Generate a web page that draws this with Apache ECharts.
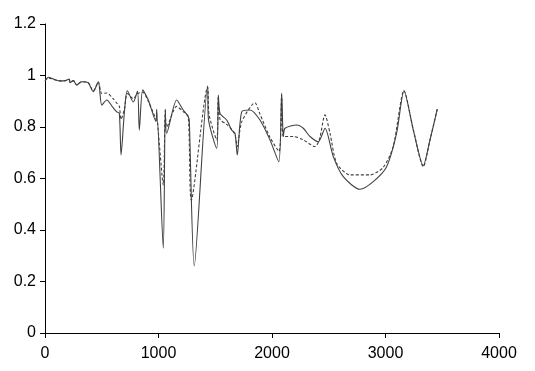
<!DOCTYPE html>
<html>
<head>
<meta charset="utf-8">
<script src="https://cdn.jsdelivr.net/npm/echarts@6/dist/echarts.min.js"></script>
<style>html,body{margin:0;padding:0;background:#fff;}#c{width:535px;height:371px;}</style>
</head>
<body>
<div id="c"></div>
<script>
var xTicks = [0, 1000, 2000, 3000, 4000];
var yTicks = [0, 0.2, 0.4, 0.6, 0.8, 1, 1.2];

var solidX = [0, 29, 80, 132, 180, 214, 220, 250, 279, 323, 381, 425, 470, 500, 544, 600, 632, 655, 670, 700, 725, 778, 815, 831, 861, 910, 978, 984, 1042, 1060, 1072, 1160, 1218, 1242, 1262, 1271, 1315, 1433, 1439, 1513, 1527, 1542, 1601, 1645, 1674, 1694, 1733, 1806, 1894, 1982, 2060, 2085, 2100, 2115, 2218, 2276, 2335, 2408, 2467, 2540, 2628, 2775, 2892, 3010, 3098, 3163, 3245, 3333, 3392, 3456];
var solidY = [0.98, 0.993, 0.985, 0.979, 0.98, 0.986, 0.972, 0.98, 0.963, 0.976, 0.972, 0.937, 0.976, 0.885, 0.905, 0.875, 0.859, 0.853, 0.691, 0.86, 0.941, 0.897, 0.94, 0.788, 0.944, 0.905, 0.821, 0.869, 0.329, 0.869, 0.776, 0.905, 0.866, 0.853, 0.84, 0.827, 0.26, 0.959, 0.834, 0.717, 0.924, 0.853, 0.827, 0.788, 0.776, 0.691, 0.859, 0.866, 0.827, 0.75, 0.665, 0.931, 0.763, 0.795, 0.808, 0.795, 0.763, 0.743, 0.795, 0.685, 0.607, 0.558, 0.588, 0.646, 0.776, 0.941, 0.788, 0.65, 0.75, 0.869];

var dashedX = [0, 29, 80, 132, 180, 214, 220, 250, 279, 323, 381, 425, 470, 500, 544, 600, 632, 655, 670, 700, 725, 778, 815, 861, 910, 978, 990, 1042, 1060, 1072, 1160, 1218, 1262, 1289, 1433, 1445, 1513, 1527, 1542, 1601, 1645, 1674, 1694, 1733, 1850, 1894, 1982, 2062, 2085, 2100, 2188, 2276, 2379, 2417, 2467, 2511, 2570, 2687, 2863, 2980, 3068, 3163, 3245, 3333, 3392, 3456];
var dashedY = [0.98, 0.99, 0.985, 0.979, 0.98, 0.984, 0.975, 0.98, 0.963, 0.976, 0.972, 0.94, 0.975, 0.93, 0.932, 0.91, 0.893, 0.88, 0.83, 0.87, 0.93, 0.91, 0.93, 0.935, 0.9, 0.83, 0.82, 0.575, 0.865, 0.8, 0.88, 0.86, 0.84, 0.516, 0.955, 0.85, 0.75, 0.92, 0.83, 0.81, 0.79, 0.77, 0.724, 0.82, 0.894, 0.85, 0.76, 0.705, 0.925, 0.763, 0.763, 0.75, 0.724, 0.75, 0.847, 0.776, 0.659, 0.614, 0.614, 0.643, 0.724, 0.941, 0.79, 0.646, 0.75, 0.869];

function pairs(xs, ys) { return xs.map(function (x, i) { return [x, ys[i]]; }); }

var chart = echarts.init(document.getElementById('c'), null, {renderer: 'canvas'});
var axisText = {color: '#000', fontFamily: 'Liberation Sans, Arial, sans-serif', fontSize: 16};
chart.setOption({
  animation: false,
  backgroundColor: '#fff',
  grid: {left: 45, right: 36, top: 24, bottom: 38, containLabel: false},
  xAxis: {
    type: 'value', min: xTicks[0], max: xTicks[xTicks.length - 1], interval: 1000,
    axisLine: {show: true, lineStyle: {color: '#000', width: 1}},
    axisTick: {show: true, length: 5, inside: false, lineStyle: {color: '#000'}},
    axisLabel: Object.assign({margin: 13, formatter: function (v) { return String(v); }}, axisText),
    splitLine: {show: false}
  },
  yAxis: {
    type: 'value', min: yTicks[0], max: yTicks[yTicks.length - 1], interval: 0.2,
    axisLine: {show: true, lineStyle: {color: '#000', width: 1}},
    axisTick: {show: true, length: 5, inside: false, lineStyle: {color: '#000'}},
    axisLabel: Object.assign({margin: 9, formatter: function (v) { return String(Math.round(v * 10) / 10); }}, axisText),
    splitLine: {show: false}
  },
  series: [
    {
      type: 'line', data: pairs(solidX, solidY), showSymbol: false, smooth: 0.25,
      lineStyle: {color: '#404040', width: 1.1, type: 'solid'}
    },
    {
      type: 'line', data: pairs(dashedX, dashedY), showSymbol: false, smooth: 0.25,
      lineStyle: {color: '#404040', width: 1.1, type: [3, 2]}
    }
  ]
});
</script>
</body>
</html>
